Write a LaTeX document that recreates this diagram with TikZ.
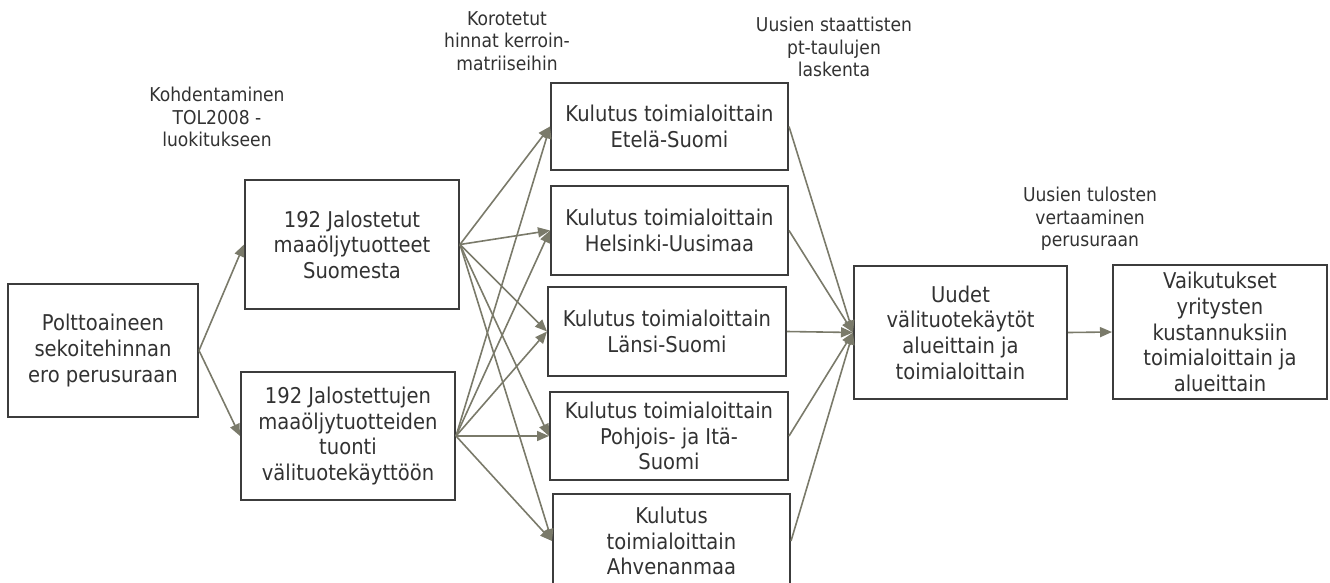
\documentclass[tikz,border=0pt]{standalone}
\usepackage{fontspec}
\setmainfont{DejaVu Sans}[FakeStretch=0.9]
\usetikzlibrary{arrows.meta}
\definecolor{arr}{RGB}{122,122,106}
\definecolor{bord}{RGB}{60,60,60}
\definecolor{txt}{RGB}{50,50,50}
\begin{document}
\begin{tikzpicture}[x=0.75pt,y=-0.75pt,
  box/.style={draw=bord, line width=1.5pt, align=center, text=txt, inner sep=0pt,
    font=\fontsize{16.3pt}{19.2pt}\selectfont},
  lab/.style={align=center, text=txt, inner sep=0pt,
    font=\fontsize{14.3pt}{16.9pt}\selectfont},
  conn/.style={draw=arr, line width=1.2pt, -{Triangle[length=9pt,width=7.5pt]}}]
\useasboundingbox (0,0) rectangle (1330,582);

\node[box, minimum width=142.5pt, minimum height=99.75pt] (a) at (103,350.5) {Polttoaineen\\sekoitehinnan\\ero perusuraan};
\node[box, minimum width=160.5pt, minimum height=96.75pt] (b) at (352,244.5) {192 Jalostetut\\maaöljytuotteet\\Suomesta};
\node[box, minimum width=160.5pt, minimum height=96pt] (c) at (348,436) {192 Jalostettujen\\maaöljytuotteiden\\tuonti\\välituotekäyttöön};

\node[box, minimum width=177.75pt, minimum height=65.25pt] (e) at (669.5,126.5) {Kulutus toimialoittain\\Etelä-Suomi};
\node[box, minimum width=177.75pt, minimum height=66.75pt] (h) at (669.5,230.5) {Kulutus toimialoittain\\Helsinki-Uusimaa};
\node[box, minimum width=178.5pt, minimum height=66.75pt] (l) at (667,331.5) {Kulutus toimialoittain\\Länsi-Suomi};
\node[box, minimum width=178.5pt, minimum height=66pt] (p) at (669,436) {Kulutus toimialoittain\\Pohjois- ja Itä-\\Suomi};
\node[box, minimum width=177.75pt, minimum height=70.5pt] (ah) at (671.5,541) {Kulutus\\toimialoittain\\Ahvenanmaa};

\node[box, minimum width=159.75pt, minimum height=99.75pt] (u) at (960.5,332.5) {Uudet\\välituotekäytöt\\alueittain ja\\toimialoittain};
\node[box, minimum width=160.5pt, minimum height=100.5pt] (v) at (1220,332) {Vaikutukset\\yritysten\\kustannuksiin\\toimialoittain ja\\alueittain};

\node[lab] (l1) at (217,117) {Kohdentaminen\\TOL2008 -\\luokitukseen};
\node[lab] (l2) at (507,41) {Korotetut\\hinnat kerroin-\\matriiseihin};
\node[lab] (l3) at (834,47) {Uusien staattisten\\pt-taulujen\\laskenta};
\node[lab] (l4) at (1090,219) {Uusien tulosten\\vertaaminen\\perusuraan};

\draw[conn] (a.east) -- (b.west);
\draw[conn] (a.east) -- (c.west);
\foreach \t in {e,h,l,p,ah} {
  \draw[conn] (b.east) -- (\t.west);
  \draw[conn] (c.east) -- (\t.west);
  \draw[conn] (\t.east) -- (u.west);
}
\draw[conn] (u.east) -- (v.west);
\end{tikzpicture}
\end{document}
